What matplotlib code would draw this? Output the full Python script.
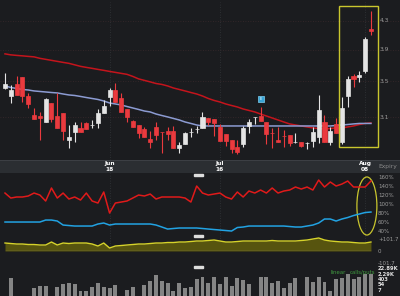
import matplotlib
matplotlib.use('Agg')
import matplotlib.pyplot as plt
import matplotlib.transforms as mtransforms
from matplotlib.patches import Rectangle, Ellipse
import numpy as np

# Daily candles (price, log scale)
open_ = [3.422, 3.330, 3.469, 3.553, 3.330, 3.122, 3.111, 3.048, 3.252, 3.111,
         3.143, 2.867, 2.946, 2.987, 3.038, 3.015, 3.038, 3.143, 3.319, 3.399,
         3.308, 3.186, 3.059, 3.017, 2.977, 2.877, 2.997, 2.948, 2.956, 2.956,
         2.790, 2.828, 2.944, 2.975, 2.987, 3.090, 3.080, 2.997, 2.926, 2.867,
         2.799, 2.828, 3.007, 3.099, 3.111, 3.048, 2.938, 2.867, 2.908, 2.916,
         2.846, 2.848, 2.836, 2.857, 2.896, 3.048, 2.848, 3.028, 2.848, 3.330,
         3.566, 3.553, 3.627, 4.185]
close = [3.469, 3.399, 3.342, 3.330, 3.241, 3.080, 3.090, 3.296, 3.080, 2.987,
         2.956, 2.896, 3.017, 2.946, 2.977, 3.019, 3.143, 3.219, 3.399, 3.263,
         3.154, 3.101, 2.997, 2.936, 2.896, 2.848, 2.916, 2.944, 2.926, 2.790,
         2.818, 2.936, 2.948, 2.979, 3.101, 3.048, 3.038, 2.857, 2.857, 2.780,
         2.752, 2.987, 3.048, 3.103, 3.059, 2.926, 2.934, 2.848, 2.904, 2.838,
         2.850, 2.809, 2.840, 2.946, 3.175, 2.848, 2.956, 2.936, 3.197, 3.529,
         3.529, 3.578, 4.045, 4.157]
high = [3.602, 3.457, 3.566, 3.553, 3.365, 3.197, 3.154, 3.308, 3.252, 3.365,
        3.143, 3.017, 3.048, 3.048, 3.048, 3.069, 3.186, 3.285, 3.422, 3.481,
        3.365, 3.186, 3.069, 3.017, 2.997, 2.956, 3.048, 2.946, 2.997, 3.007,
        2.848, 2.946, 2.987, 3.007, 3.154, 3.090, 3.080, 3.028, 2.926, 2.867,
        2.867, 3.007, 3.080, 3.101, 3.208, 3.048, 2.987, 2.997, 2.966, 2.916,
        2.936, 2.848, 2.848, 2.997, 3.342, 3.122, 2.997, 3.090, 3.319, 3.566,
        3.590, 3.627, 4.073, 4.450]
low = [3.410, 3.252, 3.342, 3.263, 3.197, 3.080, 2.867, 3.045, 3.048, 2.987,
       2.867, 2.790, 2.848, 2.946, 2.977, 2.987, 2.987, 3.143, 3.219, 3.263,
       3.154, 3.048, 2.997, 2.887, 2.896, 2.790, 2.867, 2.743, 2.867, 2.790,
       2.743, 2.828, 2.896, 2.936, 2.987, 3.017, 2.906, 2.857, 2.809, 2.743,
       2.734, 2.799, 2.936, 3.028, 3.059, 2.828, 2.790, 2.848, 2.799, 2.809,
       2.838, 2.799, 2.780, 2.799, 2.838, 2.848, 2.818, 2.936, 2.828, 3.208,
       3.434, 3.493, 3.602, 4.101]

# moving averages
ma_long = [3.844, 3.831, 3.824, 3.818, 3.811, 3.805, 3.786, 3.773, 3.760, 3.747,
           3.734, 3.722, 3.703, 3.684, 3.671, 3.659, 3.646, 3.634, 3.621, 3.609,
           3.597, 3.585, 3.560, 3.530, 3.512, 3.494, 3.475, 3.464, 3.446, 3.422,
           3.405, 3.388, 3.370, 3.353, 3.330, 3.302, 3.280, 3.263, 3.241, 3.224,
           3.208, 3.186, 3.170, 3.154, 3.132, 3.111, 3.090, 3.069, 3.048, 3.028,
           3.017, 3.007, 2.997, 2.987, 2.981, 2.976, 2.981, 2.987, 2.987, 2.997,
           3.007, 3.022, 3.033, 3.038]
ma_short = [3.446, 3.428, 3.417, 3.405, 3.399, 3.388, 3.382, 3.376, 3.370, 3.365,
            3.353, 3.342, 3.336, 3.325, 3.313, 3.302, 3.291, 3.274, 3.252, 3.241,
            3.230, 3.213, 3.197, 3.181, 3.164, 3.154, 3.132, 3.116, 3.101, 3.085,
            3.069, 3.048, 3.033, 3.017, 3.007, 3.007, 3.007, 3.007, 3.007, 3.007,
            3.007, 3.007, 3.007, 3.007, 3.007, 3.007, 3.007, 3.007, 3.007, 3.007,
            3.007, 3.007, 3.007, 3.007, 3.007, 3.007, 3.007, 3.012, 3.017, 3.022,
            3.028, 3.033, 3.033, 3.033]

# implied volatility (%)
iv_red = [124.4, 113.3, 115.6, 115.6, 117.8, 124.4, 120.0, 106.7, 135.6, 113.3,
          124.4, 111.1, 115.6, 108.9, 124.4, 106.7, 102.2, 126.7, 80.0, 102.2,
          104.4, 106.7, 113.3, 120.0, 117.8, 122.2, 111.1, 115.6, 115.6, 115.6,
          115.6, 113.3, 104.4, 140.0, 124.4, 120.0, 122.2, 124.4, 115.6, 111.1,
          126.7, 115.6, 128.9, 124.4, 131.1, 124.4, 135.6, 124.4, 128.9, 131.1,
          137.8, 133.3, 137.8, 131.1, 153.3, 137.8, 148.9, 140.0, 144.4, 151.1,
          137.8, 137.8, 137.8, 151.1]
iv_blue = [60.0, 60.0, 60.0, 60.0, 60.0, 60.0, 60.0, 64.4, 64.4, 62.2,
           53.3, 52.2, 51.1, 51.1, 51.1, 51.1, 55.6, 57.8, 53.3, 55.6,
           55.6, 55.6, 55.6, 55.6, 55.6, 55.6, 53.3, 48.9, 44.4, 45.6,
           46.7, 46.7, 46.7, 46.7, 45.6, 44.4, 43.3, 42.2, 41.1, 40.0,
           47.8, 48.9, 51.1, 51.1, 51.1, 51.1, 51.1, 51.1, 51.1, 50.0,
           48.9, 48.9, 51.1, 53.3, 57.8, 66.7, 66.7, 62.2, 66.7, 70.0,
           74.4, 77.8, 81.1, 82.2]
yellow_vals = [67.8, 63.6, 59.3, 59.3, 55.1, 55.1, 50.9, 50.9, 76.3, 50.9,
               67.8, 63.6, 67.8, 67.8, 67.8, 59.3, 42.4, 67.8, 25.4, 42.4,
               46.6, 50.9, 55.1, 59.3, 59.3, 63.6, 67.8, 67.8, 72.0, 72.0,
               76.3, 76.3, 80.5, 84.8, 84.8, 89.0, 93.2, 84.8, 76.3, 76.3,
               80.5, 84.8, 84.8, 84.8, 84.8, 84.8, 89.0, 84.8, 84.8, 84.8,
               84.8, 89.0, 93.2, 101.7, 110.2, 93.2, 84.8, 80.5, 76.3, 76.3,
               72.0, 67.8, 67.8, 76.3]

# option volume (log scale), nan = no trades
nan = np.nan
volume = [nan, 724, nan, nan, nan, 15.6, 33.6, 33.6, nan, 22.9,
          72, 106, 72, 3.4, 3.4, 23, 106, 23, 15.6, 49,
          nan, 7.2, 23, nan, 49, 229, 2291, 229, 106, 3.4,
          106, 15.6, 23, 493, 1064, 106, 1064, 72, 1064, 34,
          724, 336, 72, nan, 1064, 1064, 106, 229, 15.6, 106,
          724, nan, 1064, 156, 1064, 156, 3.4, 493, 724, 3365,
          493, 1064, 3365, 3365]

date_pos = [18, 37, 62]
date_labels = ['Jun\n18', 'Jul\n16', 'Aug\n08']
price_ticks = [4.3, 3.9, 3.5, 3.1]
iv_ticks = [160, 140, 120, 100, 80, 60, 40]
yellow_ticks = [101.7, 0, -101.7]
yellow_tick_labels = ['+101.7', '0', '-101.7']
vol_ticks = [22890, 2290, 403, 54, 7]
vol_tick_labels = ['22.89K', '2.29K', '403', '54', '7']
event_day, event_price = 44, 3.30

BG = '#1b1c1f'
BAND = '#2b2e32'
LABEL = '#9a9a9a'
HILITE = '#c9c62e'

idx = np.arange(len(close))
o = np.array(open_)
c = np.array(close)

fig = plt.figure(figsize=(4, 2.96), dpi=100, facecolor=BG)
ax_p = fig.add_axes([0, 0.4595, 1, 0.5338])
ax_d = fig.add_axes([0, 0.4155, 1, 0.0440])
ax_iv = fig.add_axes([0, 0.1520, 1, 0.2635])
ax_v = fig.add_axes([0, 0.0, 1, 0.1520])
ax_y = ax_iv.twinx()

for ax in [ax_p, ax_d, ax_iv, ax_v, ax_y]:
    ax.set_xlim(-0.86, 68.0)
    ax.tick_params(which='both', left=False, right=False, bottom=False,
                   labelleft=False, labelright=False, labelbottom=False)
    for s in ax.spines.values():
        s.set_visible(False)
for ax in [ax_p, ax_iv, ax_v]:
    ax.set_facecolor(BG)
ax_d.set_facecolor(BAND)
ax_y.patch.set_visible(False)

# --- price panel
ax_p.set_yscale('log')
ax_p.set_ylim(2.678, 4.587)
ax_p.yaxis.set_major_locator(matplotlib.ticker.NullLocator())
ax_p.yaxis.set_minor_locator(matplotlib.ticker.NullLocator())
for t in price_ticks:
    ax_p.axhline(t, color='#3a2a2c', lw=0.6, ls=(0, (1, 2)), zorder=0)
for d in date_pos:
    for ax in [ax_p, ax_iv]:
        ax.axvline(d, color='#33363a', lw=0.6, ls=(0, (1, 2)), zorder=0)

ax_p.plot(idx, ma_long, color='#c4141c', lw=1.1, zorder=2)
ax_p.plot(idx, ma_short, color='#8c9bd2', lw=1.1, zorder=2)

cols = np.where(c >= o, '#e4e4e4', '#ea3a3e')
ax_p.vlines(idx, low, high, colors=cols, lw=0.8, zorder=3)
ax_p.bar(idx, np.abs(c - o), bottom=np.minimum(o, c), width=0.7,
         color=cols, edgecolor=cols, lw=0.5, zorder=4)

ax_p.scatter([event_day], [event_price], marker='s', s=22, color='#38a4d6',
             edgecolor='#7fd0f0', lw=0.5, zorder=5)
ax_p.text(event_day, event_price, 'E', color='white', fontsize=2.6,
          ha='center', va='center', zorder=6)

ax_p.add_patch(Rectangle((57.5, 2.799), 6.7, 4.526 - 2.799, fill=False,
                         edgecolor=HILITE, lw=1.0, zorder=6))

tr = mtransforms.blended_transform_factory(ax_p.transAxes, ax_p.transData)
for t in price_ticks:
    ax_p.text(0.95, t, str(t), transform=tr, color=LABEL, fontsize=4.3,
              va='center', ha='left')

# --- date band
for d, lab in zip(date_pos, date_labels):
    ax_d.text(d, 0.5, lab, color='white', fontsize=4.2, fontweight='bold',
              ha='center', va='center', linespacing=1.1)
ax_d.text(0.992, 0.5, 'Expiry', transform=ax_d.transAxes, color='#8a8a8a',
          fontsize=4.3, ha='right', va='center')
ax_d.axhline(1, color='#3c3f44', lw=0.8)

# --- volatility panel
ax_iv.set_ylim(-4.4, 168.9)
ax_iv.plot(idx, iv_red, color='#e01a1a', lw=1.1)
ax_iv.plot(idx, iv_blue, color='#22a2e2', lw=1.1)
ax_iv.add_patch(Ellipse((62.3, 95.6), 3.44, 129, fill=False,
                        edgecolor=HILITE, lw=0.9))
tr = mtransforms.blended_transform_factory(ax_iv.transAxes, ax_iv.transData)
for t in iv_ticks:
    ax_iv.text(0.945, t, f'{t}%', transform=tr, color=LABEL, fontsize=4.0,
               va='center', ha='left')

ax_y.set_ylim(0, 661)
ax_y.fill_between(idx, yellow_vals, 0, color='#57540f', lw=0)
ax_y.plot(idx, yellow_vals, color='#d6d32a', lw=1.0)
ax_y.hlines(0, idx[0], idx[-1], color='white', lw=0.8)
tr = mtransforms.blended_transform_factory(ax_y.transAxes, ax_y.transData)
for t, lab in zip(yellow_ticks, yellow_tick_labels):
    ax_y.text(0.945, t, lab, transform=tr, color=LABEL, fontsize=4.0,
              va='center', ha='left', clip_on=False)

# --- volume panel
ax_v.set_yscale('log')
ax_v.set_ylim(0.72, 2.29e7)
ax_v.yaxis.set_major_locator(matplotlib.ticker.NullLocator())
ax_v.yaxis.set_minor_locator(matplotlib.ticker.NullLocator())
ax_v.bar(idx, volume, bottom=0.72, width=0.68, color='#858585')
tr = mtransforms.blended_transform_factory(ax_v.transAxes, ax_v.transData)
for t, lab in zip(vol_ticks, vol_tick_labels):
    ax_v.text(0.945, t, lab, transform=tr, color='#e0e0e0', fontsize=3.8,
              fontweight='bold', va='center', ha='left')
ax_v.text(0.845, 0.53, 'linear', transform=ax_v.transAxes, color='#3f9a3f',
          fontsize=3.9, ha='center', va='center')
ax_v.text(0.905, 0.53, 'calls/puts', transform=ax_v.transAxes, color='#3f9a3f',
          fontsize=3.9, ha='center', va='center')

# little white panel handles
for yy in [175, 236, 267]:
    fig.add_artist(Rectangle((194 / 400, 1 - (yy + 1) / 296), 9 / 400, 2 / 296,
                             transform=fig.transFigure, color='#dddddd'))

fig.savefig('out.png', dpi=100, facecolor=BG)
